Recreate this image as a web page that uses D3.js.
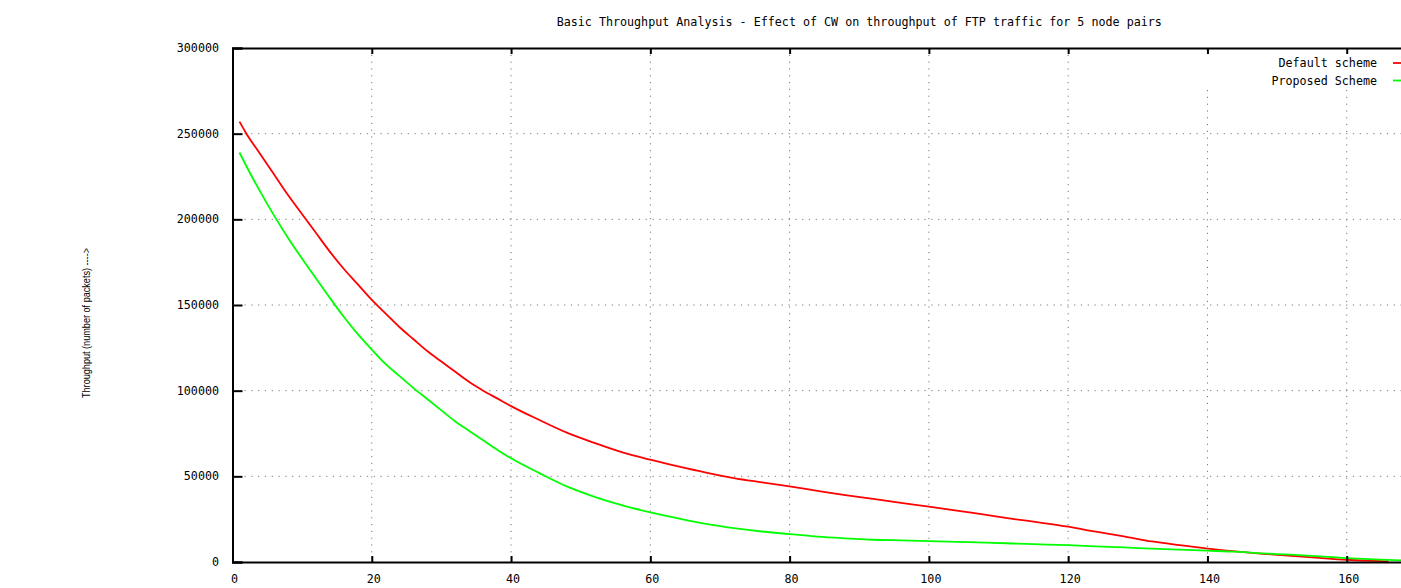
<!DOCTYPE html>
<html>
<head>
<meta charset="utf-8">
<script src="https://cdn.jsdelivr.net/npm/d3@7"></script>
<style>
  html, body { margin: 0; padding: 0; background: #fff; }
  svg { display: block; }
  .mono { font-family: "DejaVu Sans Mono", "Liberation Mono", monospace; font-size: 11.7px; fill: #000; }
</style>
</head>
<body>
<div id="chart"></div>
<script>
const title = "Basic Throughput Analysis - Effect of CW on throughput of FTP traffic for 5 node pairs";
const yLabel = "Throughput (number of packets) ---->";
const seriesNames = ["Default scheme", "Proposed Scheme"];
const seriesColors = ["#ff0000", "#00ff00"];

const xTicks = [0, 20, 40, 60, 80, 100, 120, 140, 160, 180];
const xTickLabels = [0, 20, 40, 60, 80, 100, 120, 140, 160];
const yTicks = [0, 50000, 100000, 150000, 200000, 250000, 300000];

const defaultX = [1, 2, 4, 6, 8, 10, 12, 14, 16, 18, 20, 22, 24, 26, 28, 30, 32, 34, 36, 38, 40,
  44, 48, 52, 56, 60, 64, 68, 72, 76, 80, 84, 88, 92, 96, 100, 104, 108, 112, 116, 120,
  124, 128, 132, 136, 140, 144, 148, 152, 156, 160, 164, 166];
const defaultY = [257000, 250000, 238000, 226000, 214000, 203000, 192000, 181000, 171000, 162000, 153000,
  145000, 137000, 130000, 123000, 117000, 111000, 105000, 100000, 95500, 91000,
  83000, 75500, 69500, 64000, 59700, 55800, 52200, 49000, 46500, 44100, 41500, 39000, 36800, 34500, 32300,
  30000, 27600, 25200, 23000, 20600, 17700, 15000, 12000, 9800, 7800, 6200, 4800, 3600, 2400, 1300, 600, 400];

const proposedX = [1, 2, 4, 6, 8, 10, 12, 14, 16, 18, 20, 22, 24, 26, 28, 30, 32, 34, 36, 38, 40,
  44, 48, 52, 56, 60, 64, 68, 72, 76, 80, 84, 88, 92, 96, 100, 104, 108, 112, 116, 120,
  124, 128, 132, 136, 140, 144, 148, 152, 156, 160, 164, 168, 170];
const proposedY = [239000, 231000, 216000, 202000, 189000, 177000, 165500, 154000, 143000, 133000, 124000,
  115500, 108500, 101500, 95000, 88500, 82000, 76500, 71000, 65500, 60500,
  52000, 44100, 38000, 33000, 29000, 25500, 22300, 19800, 17800, 16300, 14800, 13800, 13000, 12600, 12200,
  11800, 11300, 10800, 10300, 9800, 9100, 8500, 7800, 7200, 6600, 6000, 5000, 4300, 3300, 2300, 1500, 900, 700];

const width = 1401, height = 588;
const margin = { top: 48, left: 232.5, bottom: 26 };
const plotRight = 1486; // right border falls outside the picture

const x = d3.scaleLinear().domain([0, 180]).range([margin.left, plotRight]);
const y = d3.scaleLinear().domain([0, 300000]).range([height - margin.bottom, margin.top]);

const svg = d3.select("#chart").append("svg")
  .attr("width", width).attr("height", height)
  .style("background", "#fff");

// grid
const grid = svg.append("g")
  .attr("stroke", "#777").attr("stroke-width", 1).attr("stroke-dasharray", "1.2,5.6");
grid.selectAll("line.v")
  .data(xTicks.filter((d) => d > 0 && d < 180))
  .join("line")
  .attr("x1", (d) => x(d)).attr("x2", (d) => x(d))
  .attr("y1", (d) => (d >= 140 ? 90 : y(300000)))
  .attr("y2", y(0));
grid.selectAll("line.h")
  .data(yTicks.filter((d) => d > 0 && d < 300000))
  .join("line")
  .attr("x1", x(0) + 12).attr("x2", width)
  .attr("y1", (d) => y(d)).attr("y2", (d) => y(d));

// series
const series = [
  { name: seriesNames[0], color: seriesColors[0], values: defaultX.map((d, i) => [d, defaultY[i]]) },
  { name: seriesNames[1], color: seriesColors[1], values: proposedX.map((d, i) => [d, proposedY[i]]) },
];
const line = d3.line().x((d) => x(d[0])).y((d) => y(d[1])).curve(d3.curveMonotoneX);

svg.append("g")
  .selectAll("path")
  .data(series)
  .join("path")
  .attr("fill", "none")
  .attr("stroke", (d) => d.color)
  .attr("stroke-width", 1.8)
  .attr("d", (d) => line(d.values));

// axes (gnuplot style: inward ticks, border)
const xAxisG = svg.append("g")
  .attr("transform", `translate(0,${y(0)})`)
  .call(d3.axisBottom(x).tickValues(xTicks).tickSize(-6).tickFormat(""));
const xTopG = svg.append("g")
  .attr("transform", `translate(0,${y(300000)})`)
  .call(d3.axisTop(x).tickValues(xTicks).tickSize(-6).tickFormat(""));
const yAxisG = svg.append("g")
  .attr("transform", `translate(${x(0)},0)`)
  .call(d3.axisLeft(y).tickValues(yTicks).tickSize(-10).tickFormat(""));
[xAxisG, xTopG, yAxisG].forEach((g) => {
  g.selectAll(".domain").attr("stroke", "#000").attr("stroke-width", 2);
  g.selectAll(".tick line").attr("stroke", "#000").attr("stroke-width", 2);
});

// tick labels
svg.append("g")
  .selectAll("text")
  .data(xTickLabels)
  .join("text")
  .attr("class", "mono")
  .attr("x", (d) => x(d) + 2)
  .attr("y", 579)
  .attr("text-anchor", "middle")
  .attr("dominant-baseline", "central")
  .text((d) => d);
svg.append("g")
  .selectAll("text")
  .data(yTicks)
  .join("text")
  .attr("class", "mono")
  .attr("x", 219)
  .attr("y", (d) => y(d))
  .attr("text-anchor", "end")
  .attr("dominant-baseline", "central")
  .text((d) => d);

// title
svg.append("text")
  .attr("class", "mono")
  .attr("x", (margin.left + plotRight) / 2)
  .attr("y", 22)
  .attr("text-anchor", "middle")
  .attr("dominant-baseline", "central")
  .text(title);

// y label
svg.append("text")
  .attr("transform", "translate(86,323) rotate(-90)")
  .attr("text-anchor", "middle")
  .attr("dominant-baseline", "central")
  .attr("font-family", "Liberation Sans, Arial, sans-serif")
  .attr("font-size", 11.5)
  .attr("textLength", 150)
  .attr("lengthAdjust", "spacingAndGlyphs")
  .text(yLabel);

// legend
const legend = svg.append("g")
  .selectAll("g")
  .data(series)
  .join("g")
  .attr("transform", (d, i) => `translate(0,${63 + i * 17.5})`);
legend.append("text")
  .attr("class", "mono")
  .attr("x", 1377)
  .attr("text-anchor", "end")
  .attr("dominant-baseline", "central")
  .text((d) => d.name);
legend.append("line")
  .attr("x1", 1393).attr("x2", 1425)
  .attr("stroke", (d) => d.color).attr("stroke-width", 1.8);
</script>
</body>
</html>
